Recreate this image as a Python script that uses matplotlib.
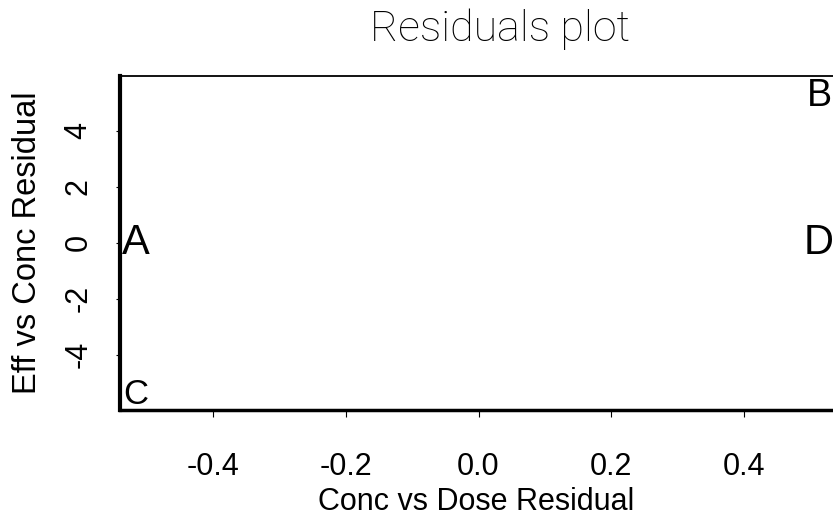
import matplotlib
matplotlib.use("Agg")
import matplotlib.pyplot as plt

# residual pairs, one letter per observation
labels = ["A", "B", "C", "D"]
conc_dose_res = [-0.516, 0.513, -0.516, 0.513]
eff_conc_res = [0.0, 5.23, -5.4, 0.0]

xticks = [-0.4, -0.2, 0.0, 0.2, 0.4]
yticks = [-4, -2, 0, 2, 4]

# letter sizes (pt)
letter_size = [30, 27, 25, 30]

plt.rcParams['font.family'] = ['Liberation Sans', 'DejaVu Sans']

fig = plt.figure(figsize=(8.33, 5.18), dpi=100)
ax = fig.add_axes([120/833, 108/518, 717/833, 334/518])

for lab, x, y, s in zip(labels, conc_dose_res, eff_conc_res, letter_size):
    ax.text(x, y, lab, ha='center', va='center', fontsize=s, clip_on=False)

ax.set_xlim(-0.54, 0.54)
ax.set_ylim(-5.97, 5.95)
ax.set_xticks(xticks)
ax.set_xticklabels(["%.1f" % v for v in xticks])
ax.set_yticks(yticks)
ax.set_yticklabels([str(v) for v in yticks], rotation=90, va='center')

ax.tick_params(axis='x', direction='out', length=5, width=0.8, pad=25, labelsize=22)
ax.tick_params(axis='y', direction='out', length=3, width=0.8, pad=16, labelsize=22)

ax.spines['left'].set_linewidth(3)
ax.spines['bottom'].set_linewidth(2.5)
ax.spines['top'].set_linewidth(1.3)
ax.spines['right'].set_linewidth(1.3)

ax.set_xlabel("Conc vs Dose Residual", fontsize=22, va='center')
ax.xaxis.set_label_coords(0.497, (410 - 502) / 334)
ax.set_ylabel("Eff vs Conc Residual", fontsize=23.5, va='center')
ax.yaxis.set_label_coords((28 - 120) / 717, 0.5)

fig.text(500/833, (518-41)/518, "Residuals plot", ha='center', va='baseline',
         fontsize=31, family=['Roboto', 'DejaVu Sans'], fontweight='light')

fig.savefig("out.png", dpi=100)
